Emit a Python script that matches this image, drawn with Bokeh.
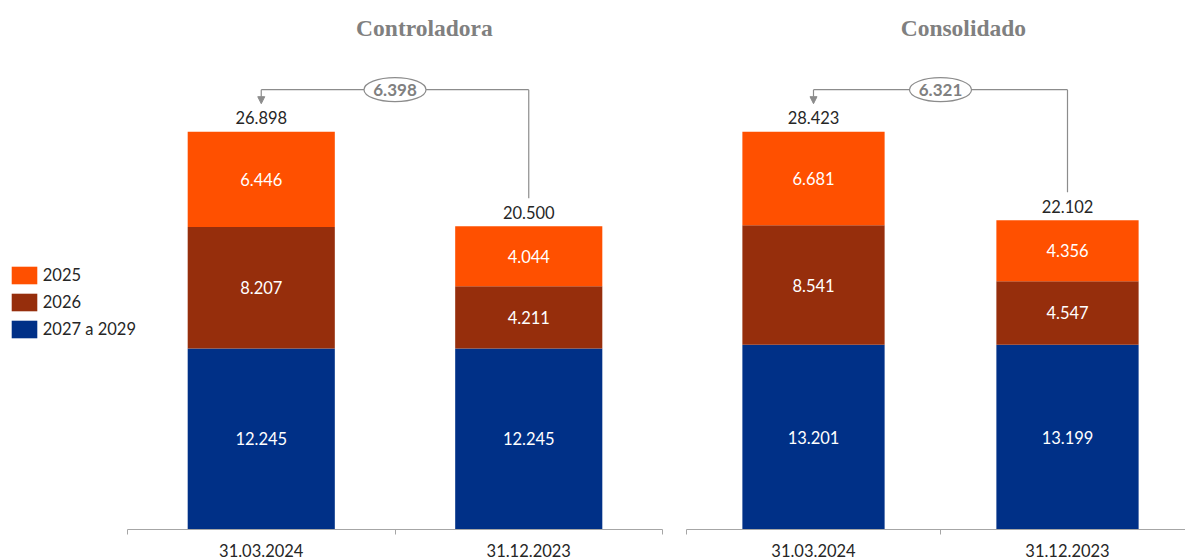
from bokeh.plotting import figure
from bokeh.models import ColumnDataSource, FixedTicker, Legend, LegendItem, Arrow, NormalHead, Range1d
from bokeh.layouts import row
from bokeh.embed import file_html
from bokeh.resources import INLINE
from bokeh.core.properties import value

# ---- data ----
periods = ["31.03.2024", "31.12.2023"]
series = ["2025", "2026", "2027 a 2029"]
ctrl_2025 = [6446, 4044]
ctrl_2026 = [8207, 4211]
ctrl_2027_29 = [12245, 12245]
cons_2025 = [6681, 4356]
cons_2026 = [8541, 4547]
cons_2027_29 = [13201, 13199]
titles = ["Controladora", "Consolidado"]

# ---- style ----
ORANGE = "#FF5000"
BROWN = "#962E0C"
BLUE = "#003087"
GRAY = "#8C8C8C"
TITLE_GRAY = "#808080"
AXIS_GRAY = "#A6A6A6"
TEXT = "#262626"
FONT = "Lato"

FIG_H = 559
FRAME_H = 528      # px height of plotting frame (frame top at page top)
TOP_BAR_PX = 397   # px height of tallest bar


def fmt(v):
    return f"{v:,}".replace(",", ".")


def panel(title, v25, v26, v27, width, border_r, x_start, x_end, bar_w, title_x, with_legend=False):
    n = len(periods)
    totals = [a + b + c for a, b, c in zip(v25, v26, v27)]
    y_end = max(totals) * FRAME_H / TOP_BAR_PX
    px = y_end / FRAME_H  # data units per pixel

    p = figure(width=width, height=FIG_H, x_range=Range1d(x_start, x_end), y_range=Range1d(0, y_end),
               output_backend="svg", toolbar_location=None,
               min_border_left=0, min_border_right=border_r,
               min_border_top=0, min_border_bottom=0)
    p.background_fill_color = "white"
    p.border_fill_color = "white"
    p.outline_line_color = None
    p.grid.visible = False
    p.yaxis.visible = False

    x = [i + 0.5 for i in range(n)]
    src = ColumnDataSource(dict(x=x, s27=v27, s26=v26, s25=v25))
    rs = p.vbar_stack(["s27", "s26", "s25"], x="x", width=bar_w,
                      fill_color=[BLUE, BROWN, ORANGE], line_color=None, source=src)

    # segment labels
    lx, ly, lt = [], [], []
    for i in range(n):
        base = 0
        for v in (v27[i], v26[i], v25[i]):
            lx.append(x[i]); ly.append(base + v / 2); lt.append(fmt(v))
            base += v
    p.text(x=lx, y=ly, text=lt, text_color="white", text_font=value(FONT),
           text_font_size="16.5px", text_align="center", text_baseline="middle")

    # totals
    p.text(x=x, y=totals, text=[fmt(t) for t in totals], text_color=TEXT, text_font=value(FONT),
           text_font_size="16.5px", text_align="center", text_baseline="middle", y_offset=-14)

    # bracket annotation
    ybr = (FRAME_H - 89) * px
    p.segment(x0=[x[0]], y0=[ybr], x1=[x[1]], y1=[ybr], line_color=GRAY, line_width=1.2)
    p.segment(x0=[x[1]], y0=[ybr], x1=[x[1]], y1=[totals[1] + 28 * px], line_color=GRAY, line_width=1.2)
    p.add_layout(Arrow(end=NormalHead(size=7, fill_color=GRAY, line_color=GRAY),
                       x_start=x[0], y_start=ybr, x_end=x[0], y_end=(FRAME_H - 103) * px,
                       line_color=GRAY, line_width=1.2))
    xm = (x[0] + x[1]) / 2
    p.ellipse(x=[xm], y=[ybr], width=62, height=24, width_units="screen", height_units="screen",
              fill_color="white", line_color=GRAY, line_width=1.2)
    p.text(x=[xm], y=[ybr], text=[fmt(totals[0] - totals[1])], text_color=TITLE_GRAY,
           text_font=value(FONT), text_font_style="bold", text_font_size="17px",
           text_align="center", text_baseline="middle")

    # title
    p.text(x=[title_x], y=[(FRAME_H - 27) * px], text=[title], text_color=TITLE_GRAY,
           text_font=value("Liberation Serif"), text_font_style="bold", text_font_size="23.5px",
           text_align="center", text_baseline="middle")

    # axis (line limited to the category span)
    ax = p.xaxis[0]
    ax.bounds = (0, n)
    ax.ticker = FixedTicker(ticks=x, minor_ticks=list(range(n + 1)))
    ax.major_label_overrides = {x[i]: periods[i] for i in range(n)}
    ax.major_tick_out = 0
    ax.major_tick_in = 0
    ax.minor_tick_out = 5
    ax.minor_tick_in = 0
    ax.axis_line_color = AXIS_GRAY
    ax.minor_tick_line_color = AXIS_GRAY
    ax.major_label_standoff = 9
    ax.major_label_text_font = FONT
    ax.major_label_text_font_size = "16.5px"
    ax.major_label_text_color = TEXT

    if with_legend:
        items = [LegendItem(label=series[0], renderers=[rs[2]]),
                 LegendItem(label=series[1], renderers=[rs[1]]),
                 LegendItem(label=series[2], renderers=[rs[0]])]
        leg = Legend(items=items, location=(7.75, 188.75), orientation="vertical",
                     glyph_width=32, glyph_height=22, label_standoff=3, spacing=5,
                     padding=0, margin=0, border_line_color=None, background_fill_alpha=0,
                     label_text_font=FONT, label_text_font_size="16.5px", label_text_color=TEXT,
                     label_height=20)
        p.add_layout(leg)
    return p


left_px_per_unit = 535 / 2
p1 = panel(titles[0], ctrl_2025, ctrl_2026, ctrl_2027_29, width=686, border_r=24,
           x_start=-127 / left_px_per_unit, x_end=2.0, bar_w=0.55, title_x=1.11, with_legend=True)
p2 = panel(titles[1], cons_2025, cons_2026, cons_2027_29, width=1185 - 686, border_r=0,
           x_start=0, x_end=(1185 - 686) / 254, bar_w=0.56, title_x=1.09)

layout = row(p1, p2)
open("out.html", "w").write(file_html(layout, INLINE))
